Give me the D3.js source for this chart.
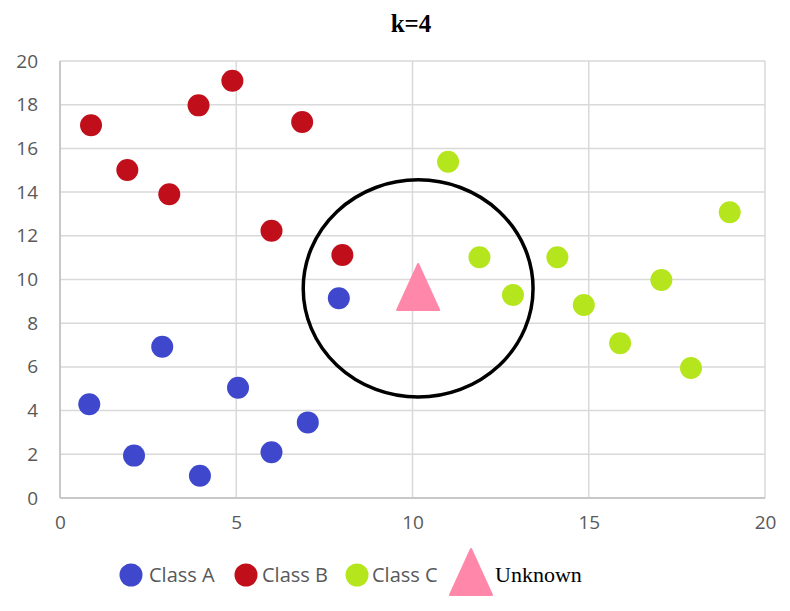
<!DOCTYPE html>
<html><head><meta charset="utf-8">
<script src="https://cdn.jsdelivr.net/npm/d3@7"></script>
<style>body{margin:0;background:#fff;}svg{display:block;}</style>
</head><body>
<script>
const classAX = [0.83, 2.10, 3.97, 2.90, 5.05, 6.00, 7.03, 7.91];
const classAY = [4.29, 1.94, 1.02, 6.92, 5.05, 2.09, 3.46, 9.14];
const classBX = [0.88, 1.91, 3.10, 3.93, 4.89, 6.87, 6.00, 8.01];
const classBY = [17.06, 15.01, 13.90, 17.97, 19.10, 17.21, 12.23, 11.12];
const classCX = [11.01, 19.00, 11.90, 14.11, 12.85, 14.86, 17.06, 15.89, 17.90];
const classCY = [15.39, 13.08, 11.02, 11.02, 9.29, 8.83, 9.98, 7.08, 5.95];
const unknownX = [10.16];
const unknownY = [9.52];
const neighborhood = {cx: 10.16, cy: 9.59, rx: 3.26, ry: 4.97};
const xTicks = [0, 5, 10, 15, 20];
const yTicks = [0, 2, 4, 6, 8, 10, 12, 14, 16, 18, 20];
const seriesNames = ["Class A", "Class B", "Class C", "Unknown"];
const colors = ["#3f48cc", "#c00f1a", "#b5e61d", "#ff88aa"];
const title = "k=4";

const W = 790, H = 611;
const svg = d3.select("body").append("svg").attr("width", W).attr("height", H);
const x = d3.scaleLinear().domain([0, 20]).range([60, 765]);
const y = d3.scaleLinear().domain([0, 20]).range([498, 61]);

// gridlines
svg.append("g").selectAll("line.h").data(yTicks).join("line")
  .attr("x1", x(0)).attr("x2", x(20)).attr("y1", d => y(d)).attr("y2", d => y(d))
  .attr("stroke", "#d9d9d9").attr("stroke-width", 1.5);
svg.append("g").selectAll("line.v").data(xTicks).join("line")
  .attr("y1", y(0)).attr("y2", y(20)).attr("x1", d => x(d)).attr("x2", d => x(d))
  .attr("stroke", "#d9d9d9").attr("stroke-width", 1.5);
// axis lines
svg.append("line").attr("x1", x(0)).attr("x2", x(20)).attr("y1", y(0)).attr("y2", y(0)).attr("stroke", "#bfbfbf").attr("stroke-width", 1.5);
svg.append("line").attr("x1", x(0)).attr("x2", x(0)).attr("y1", y(0)).attr("y2", y(20)).attr("stroke", "#bfbfbf").attr("stroke-width", 1.5);

// axes tick labels via d3 axes
const xAxis = svg.append("g").attr("transform", `translate(0,${y(0)})`)
  .call(d3.axisBottom(x).tickValues(xTicks).tickSize(0).tickPadding(18));
const yAxis = svg.append("g").attr("transform", `translate(${x(0)},0)`)
  .call(d3.axisLeft(y).tickValues(yTicks).tickSize(0).tickPadding(22));
[xAxis, yAxis].forEach(a => {
  a.select(".domain").remove();
  a.selectAll("text").attr("font-family", "'Open Sans', 'DejaVu Sans', sans-serif")
    .attr("font-size", 19).attr("fill", "#595959");
});

// title
svg.append("text").attr("x", 411).attr("y", 32).attr("text-anchor", "middle")
  .attr("font-family", "'Liberation Serif', 'Times New Roman', serif").attr("font-weight", "bold")
  .attr("font-size", 25).attr("fill", "#000").text(title);

const R = 11;
function dots(xs, ys, color) {
  svg.append("g").selectAll("circle").data(xs.map((v, i) => [v, ys[i]])).join("circle")
    .attr("cx", d => x(d[0])).attr("cy", d => y(d[1])).attr("r", R).attr("fill", color);
}
dots(classAX, classAY, colors[0]);
dots(classBX, classBY, colors[1]);
dots(classCX, classCY, colors[2]);

function tri(cx, cy, color) {
  return svg.append("path")
    .attr("d", `M${cx},${cy - 26} L${cx + 21},${cy + 20} L${cx - 21},${cy + 20} Z`)
    .attr("fill", color).attr("stroke", color).attr("stroke-width", 2).attr("stroke-linejoin", "round");
}
unknownX.forEach((v, i) => tri(x(v), y(unknownY[i]), colors[3]));

// neighborhood circle
svg.append("ellipse")
  .attr("cx", x(neighborhood.cx)).attr("cy", y(neighborhood.cy))
  .attr("rx", x(neighborhood.rx) - x(0)).attr("ry", y(0) - y(neighborhood.ry))
  .attr("fill", "none").attr("stroke", "#000").attr("stroke-width", 3.5);

// legend
const legY = 575;
const legItems = [
  {cx: 131, tx: 149},
  {cx: 246, tx: 262},
  {cx: 357, tx: 372},
  {cx: 471, tx: 495}
];
legItems.forEach((it, i) => {
  if (i < 3) {
    svg.append("circle").attr("cx", it.cx).attr("cy", legY).attr("r", 11.5).attr("fill", colors[i]);
    svg.append("text").attr("x", it.tx).attr("y", legY + 7)
      .attr("font-family", "'Open Sans', 'DejaVu Sans', sans-serif").attr("font-size", 20)
      .attr("fill", "#595959").text(seriesNames[i]);
  } else {
    tri(it.cx, legY, colors[i]);
    svg.append("text").attr("x", it.tx).attr("y", legY + 7)
      .attr("font-family", "'Liberation Serif', 'Times New Roman', serif").attr("font-size", 22)
      .attr("fill", "#000").text(seriesNames[i]);
  }
});
</script>
</body></html>
